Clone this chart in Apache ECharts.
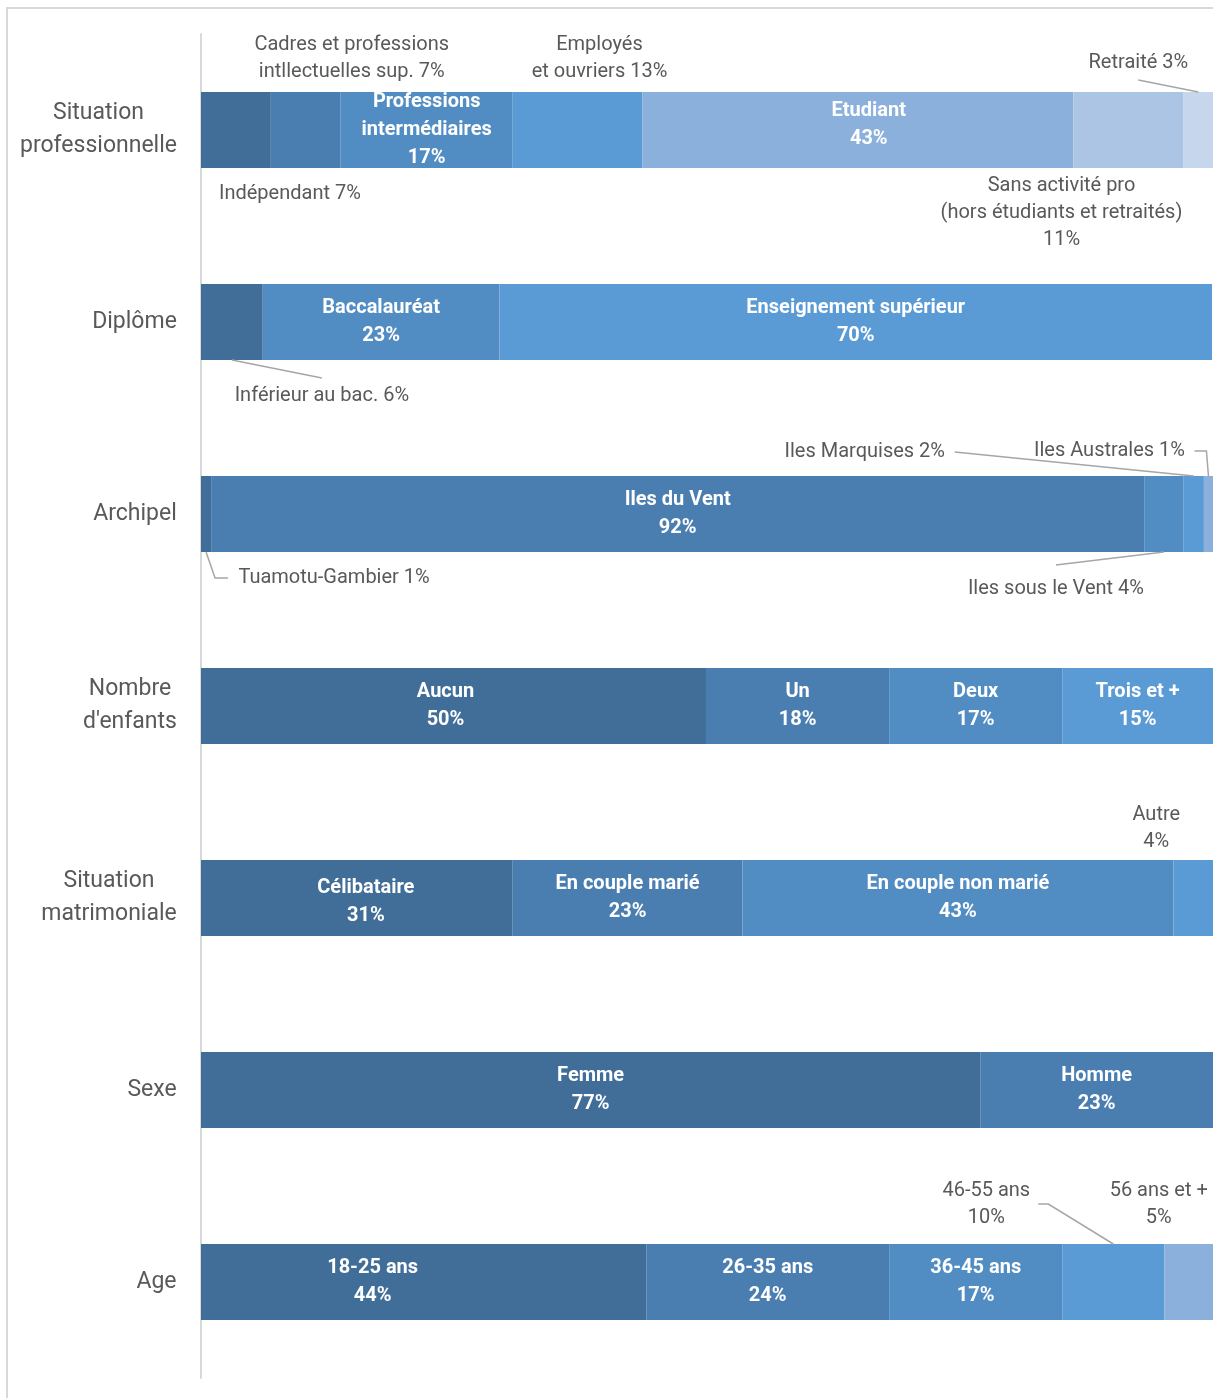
<!DOCTYPE html>
<html>
<head>
<meta charset="utf-8">
<script src="https://cdn.jsdelivr.net/npm/echarts@6/dist/echarts.min.js"></script>
<style>
html, body { margin: 0; padding: 0; background: #fff; }
#chart { width: 1213px; height: 1398px; }
</style>
</head>
<body>
<div id="chart"></div>
<script>
// categories (rows, top to bottom)
var categories = ['Situation\nprofessionnelle', 'Diplôme', 'Archipel', "Nombre\nd'enfants", 'Situation\nmatrimoniale', 'Sexe', 'Age'];

// segment names and shares (%) per row
var proNames = ['Indépendant', 'Cadres et professions\nintllectuelles sup.', 'Professions\nintermédiaires', 'Employés\net ouvriers', 'Etudiant', 'Sans activité pro\n(hors étudiants et retraités)', 'Retraité'];
var proValues = [6.9, 6.9, 17.0, 12.8, 42.6, 10.9, 2.9];

var diplomeNames = ['Inférieur au bac.', 'Baccalauréat', 'Enseignement supérieur'];
var diplomeValues = [6.1, 23.4, 70.4];

var archipelNames = ['Tuamotu-Gambier', 'Iles du Vent', 'Iles sous le Vent', 'Iles Marquises', 'Iles Australes'];
var archipelValues = [1.0, 92.2, 3.9, 2.0, 0.9];

var enfantsNames = ['Aucun', 'Un', 'Deux', 'Trois et +'];
var enfantsValues = [49.9, 18.1, 17.1, 14.9];

var matriNames = ['Célibataire', 'En couple marié', 'En couple non marié', 'Autre'];
var matriValues = [30.8, 22.7, 42.6, 3.9];

var sexeNames = ['Femme', 'Homme'];
var sexeValues = [77.0, 23.0];

var ageNames = ['18-25 ans', '26-35 ans', '36-45 ans', '46-55 ans', '56 ans et +'];
var ageValues = [44.0, 24.0, 17.1, 10.1, 4.8];

var rows = [
    [proNames, proValues],
    [diplomeNames, diplomeValues],
    [archipelNames, archipelValues],
    [enfantsNames, enfantsValues],
    [matriNames, matriValues],
    [sexeNames, sexeValues],
    [ageNames, ageValues]
];

// styling
var palette = ['#416e99', '#4a7eb0', '#518cc2', '#5a9ad5', '#8cb0dc', '#adc5e5', '#c6d6ec'];
var colorIdx = [
    [0, 1, 2, 3, 4, 5, 6],
    [0, 2, 3],
    [0, 1, 2, 3, 4],
    [0, 1, 2, 3],
    [0, 1, 2, 3],
    [0, 1],
    [0, 1, 2, 3, 4]
];
var FONT = 'Roboto, "Open Sans", sans-serif';
var BAR_H = 76;

// label placement, offset from the segment centre; out = label outside the bar
var labelPos = {
    '0-0': {out: true, dx: 54, dy: 64},
    '0-1': {out: true, dx: 46, dy: -72},
    '0-3': {out: true, dx: 22, dy: -72},
    '0-4': {dx: 11, dy: -5},
    '0-5': {out: true, dx: -67, dy: 83, sep: '\n'},
    '0-6': {out: true, dx: -60, dy: -67},
    '1-0': {out: true, dx: 90, dy: 74},
    '2-0': {out: true, dx: 128, dy: 64},
    '2-2': {out: true, dx: -108, dy: 75},
    '2-3': {out: true, dx: -329, dy: -62},
    '2-4': {out: true, dx: -99, dy: -63},
    '3-0': {dx: -8},
    '4-0': {dx: 9, dy: 4},
    '4-3': {out: true, dx: -37, dy: -70, sep: '\n'},
    '6-0': {dx: -51},
    '6-3': {out: true, dx: -127, dy: -78, sep: '\n'},
    '6-4': {out: true, dx: -30, dy: -78, sep: '\n'}
};

// leader lines: row, segment, path from label to bar (offsets from segment centre)
var leaders = [
    [0, 6, [[-60, -50], [0, -38]]],
    [1, 0, [[90, 56], [0, 38]]],
    [2, 0, [[22, 64], [9, 64], [0, 38]]],
    [2, 2, [[-108, 51], [0, 38]]],
    [2, 3, [[-239, -62], [0, -38]]],
    [2, 4, [[-14, -63], [-2, -63], [0, -38]]],
    [6, 3, [[-75, -78], [-65, -78], [0, -38]]]
];

function segCentre(r, s) {
    var v = rows[r][1], cum = 0;
    for (var i = 0; i < s; i++) cum += v[i];
    return cum + v[s] / 2;
}

var maxSeg = 7;
var series = [];
for (var s = 0; s < maxSeg; s++) {
    var data = [];
    for (var r = 0; r < rows.length; r++) {
        var names = rows[r][0], vals = rows[r][1];
        if (s >= vals.length) { data.push('-'); continue; }
        var pos = labelPos[r + '-' + s] || {};
        var pct = Math.round(vals[s]) + '%';
        var txt = names[s] + (pos.out ? (pos.sep || ' ') : '\n') + pct;
        data.push({
            value: vals[s],
            name: names[s],
            itemStyle: {color: palette[colorIdx[r][s]]},
            label: pos.out ? {
                show: true, formatter: txt, color: '#595959', fontWeight: 'normal',
                fontSize: 20, lineHeight: 27, fontFamily: FONT
            } : {
                show: true, formatter: txt, color: '#ffffff', fontWeight: 'bold',
                fontSize: 20, lineHeight: 28, fontFamily: FONT
            }
        });
    }
    series.push({
        type: 'bar',
        stack: 'total',
        barWidth: BAR_H,
        data: data,
        label: {show: true, position: 'inside'},
        labelLayout: function (params) {
            var p = labelPos[params.dataIndex + '-' + params.seriesIndex];
            if (!p) return {};
            return {dx: p.dx || 0, dy: p.dy || 0};
        },
        emphasis: {disabled: true},
        animation: false
    });
}

// leader lines drawn from the segment centres on the axes
series.push({
    type: 'custom',
    silent: true,
    clip: false,
    z: 3,
    data: leaders.map(function (l) { return [segCentre(l[0], l[1]), l[0]]; }),
    renderItem: function (params, api) {
        var c = api.coord([api.value(0), api.value(1)]);
        var path = leaders[params.dataIndex][2];
        return {
            type: 'polyline',
            shape: {points: path.map(function (p) { return [c[0] + p[0], c[1] + p[1]]; })},
            style: {stroke: '#a6a6a6', lineWidth: 1.5, fill: null}
        };
    },
    animation: false
});

// category labels: lines centred inside a right-aligned block
var ctx = document.createElement('canvas').getContext('2d');
ctx.font = '23px Roboto';
var rich = {};
categories.forEach(function (c, i) {
    var w = 0;
    c.split('\n').forEach(function (l) { w = Math.max(w, ctx.measureText(l).width); });
    rich['c' + i] = {width: Math.ceil(w) + 2, align: 'center', fontSize: 23, lineHeight: 33, color: '#595959', fontFamily: FONT};
});

var chart = echarts.init(document.getElementById('chart'));
chart.setOption({
    backgroundColor: '#ffffff',
    animation: false,
    grid: {left: 201, right: -2, top: 34, bottom: 20, containLabel: false},
    xAxis: {type: 'value', min: 0, max: 100, show: false},
    yAxis: {
        type: 'category',
        inverse: true,
        data: categories,
        axisLine: {show: true, lineStyle: {color: '#d9d9d9', width: 2}},
        axisTick: {show: false},
        axisLabel: {
            margin: 23,
            formatter: function (value, index) {
                return value.split('\n').map(function (l) { return '{c' + index + '|' + l + '}'; }).join('\n');
            },
            rich: rich
        }
    },
    graphic: [{
        type: 'polyline',
        shape: {points: [[7, 1398], [7, 8], [1213, 8]]},
        style: {stroke: '#d9d9d9', lineWidth: 2, fill: null}
    }],
    series: series
});
</script>
</body>
</html>
